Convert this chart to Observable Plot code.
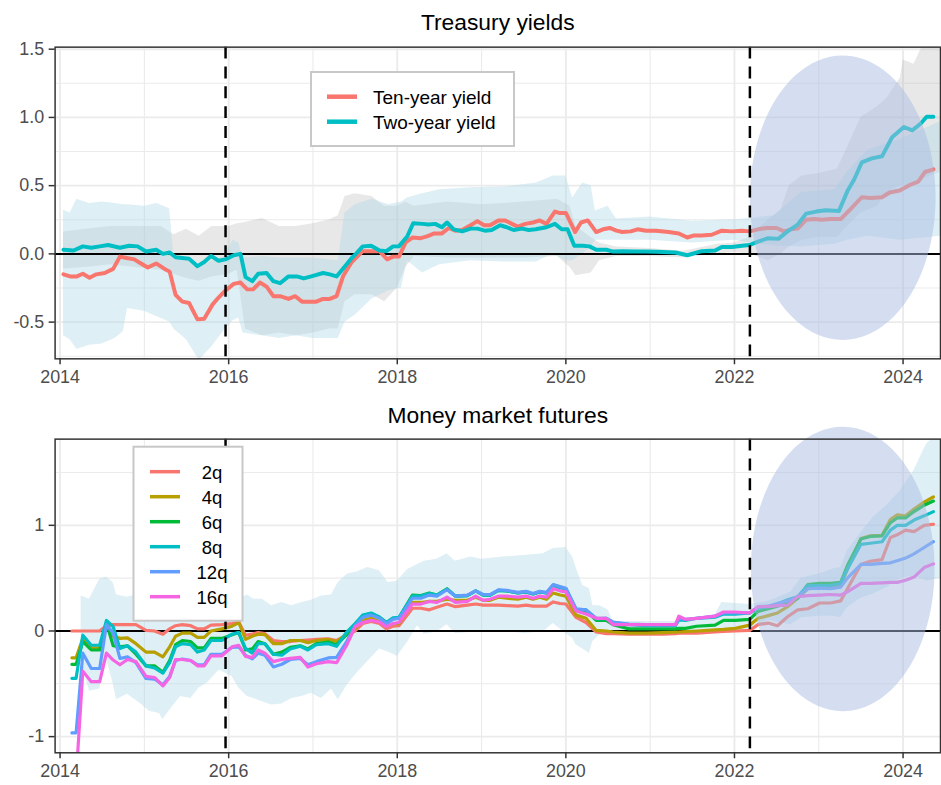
<!DOCTYPE html>
<html><head><meta charset="utf-8">
<script src="https://cdn.jsdelivr.net/npm/d3@7"></script>
<script src="https://cdn.jsdelivr.net/npm/@observablehq/plot@0.6"></script>
<style>
html,body{margin:0;padding:0;background:#fff;}
#wrap{position:relative;width:941px;height:785px;overflow:hidden;background:#fff;}
#wrap svg{display:block;}
#legend{position:absolute;left:0;top:0;pointer-events:none;}
</style></head>
<body><div id="wrap"></div>
<script>
// ---------------- DATA ----------------
// Treasury yields (decimal year, change in pp)
const tenYear = [[2014.04,-0.15],[2014.12,-0.165],[2014.2,-0.165],[2014.27,-0.146],[2014.35,-0.175],[2014.43,-0.15],[2014.53,-0.14],[2014.63,-0.11],[2014.71,-0.02],[2014.79,-0.03],[2014.88,-0.04],[2014.96,-0.07],[2015.04,-0.1],[2015.14,-0.07],[2015.24,-0.11],[2015.3,-0.13],[2015.37,-0.3],[2015.45,-0.35],[2015.53,-0.36],[2015.63,-0.48],[2015.71,-0.475],[2015.81,-0.37],[2015.88,-0.32],[2015.96,-0.27],[2016.06,-0.22],[2016.14,-0.21],[2016.22,-0.26],[2016.29,-0.26],[2016.37,-0.21],[2016.45,-0.24],[2016.53,-0.31],[2016.61,-0.31],[2016.71,-0.33],[2016.79,-0.31],[2016.87,-0.35],[2016.96,-0.35],[2017.04,-0.35],[2017.12,-0.33],[2017.2,-0.33],[2017.28,-0.31],[2017.36,-0.16],[2017.46,-0.06],[2017.59,0.02],[2017.69,0.02],[2017.79,0.02],[2017.88,-0.04],[2017.95,-0.02],[2018.02,-0.02],[2018.1,0.085],[2018.18,0.12],[2018.28,0.115],[2018.36,0.13],[2018.44,0.15],[2018.53,0.15],[2018.61,0.19],[2018.69,0.17],[2018.77,0.175],[2018.87,0.21],[2018.95,0.24],[2019.03,0.21],[2019.1,0.21],[2019.2,0.245],[2019.28,0.245],[2019.36,0.22],[2019.43,0.2],[2019.52,0.22],[2019.61,0.23],[2019.69,0.245],[2019.77,0.22],[2019.87,0.31],[2019.92,0.3],[2020.0,0.3],[2020.11,0.16],[2020.18,0.23],[2020.26,0.245],[2020.36,0.16],[2020.44,0.18],[2020.52,0.19],[2020.6,0.17],[2020.67,0.16],[2020.77,0.165],[2020.85,0.18],[2020.95,0.17],[2021.07,0.17],[2021.22,0.16],[2021.34,0.15],[2021.44,0.12],[2021.52,0.135],[2021.61,0.135],[2021.73,0.14],[2021.85,0.17],[2021.97,0.165],[2022.09,0.17],[2022.18,0.165],[2022.28,0.18],[2022.38,0.19],[2022.5,0.19],[2022.59,0.165],[2022.67,0.18],[2022.75,0.185],[2022.85,0.25],[2022.95,0.255],[2023.03,0.25],[2023.14,0.255],[2023.26,0.255],[2023.38,0.33],[2023.51,0.415],[2023.61,0.41],[2023.75,0.415],[2023.84,0.45],[2023.96,0.465],[2024.08,0.505],[2024.18,0.53],[2024.26,0.6],[2024.36,0.62]];

const twoYear = [[2014.04,0.03],[2014.16,0.025],[2014.27,0.055],[2014.37,0.045],[2014.47,0.055],[2014.57,0.065],[2014.71,0.045],[2014.82,0.06],[2014.92,0.055],[2015.02,0.017],[2015.14,0.03],[2015.22,0.0],[2015.3,0.01],[2015.37,-0.025],[2015.45,-0.03],[2015.53,-0.035],[2015.63,-0.09],[2015.71,-0.06],[2015.79,-0.015],[2015.88,-0.05],[2015.96,-0.04],[2016.06,-0.01],[2016.14,0.0],[2016.2,-0.17],[2016.28,-0.2],[2016.35,-0.145],[2016.45,-0.14],[2016.53,-0.2],[2016.61,-0.215],[2016.71,-0.165],[2016.81,-0.165],[2016.89,-0.18],[2016.98,-0.165],[2017.12,-0.14],[2017.2,-0.15],[2017.28,-0.165],[2017.38,-0.09],[2017.46,-0.03],[2017.51,0.0],[2017.59,0.055],[2017.69,0.06],[2017.79,0.025],[2017.87,0.02],[2017.95,0.055],[2018.02,0.055],[2018.12,0.13],[2018.19,0.225],[2018.3,0.22],[2018.37,0.215],[2018.45,0.22],[2018.53,0.195],[2018.59,0.23],[2018.67,0.18],[2018.77,0.165],[2018.87,0.185],[2018.95,0.185],[2019.04,0.17],[2019.12,0.175],[2019.22,0.21],[2019.3,0.195],[2019.38,0.175],[2019.48,0.185],[2019.56,0.175],[2019.64,0.18],[2019.77,0.195],[2019.87,0.22],[2019.95,0.18],[2020.02,0.18],[2020.1,0.06],[2020.2,0.06],[2020.28,0.055],[2020.36,0.03],[2020.48,0.03],[2020.56,0.017],[2020.67,0.02],[2020.83,0.017],[2020.95,0.017],[2021.07,0.015],[2021.3,0.01],[2021.44,-0.01],[2021.61,0.02],[2021.77,0.025],[2021.85,0.05],[2021.97,0.05],[2022.09,0.06],[2022.18,0.065],[2022.28,0.09],[2022.4,0.115],[2022.52,0.11],[2022.63,0.165],[2022.75,0.215],[2022.85,0.295],[2022.97,0.31],[2023.08,0.32],[2023.24,0.315],[2023.34,0.46],[2023.42,0.545],[2023.51,0.67],[2023.63,0.7],[2023.75,0.715],[2023.87,0.855],[2024.01,0.93],[2024.11,0.905],[2024.21,0.955],[2024.28,1.005],[2024.36,1.005]];

// confidence bands [year, low, high]
const tenYearBand = [[2014.04,-0.6,0.32],[2014.12,-0.63,0.3],[2014.2,-0.7,0.4],[2014.35,-0.67,0.37],[2014.5,-0.66,0.38],[2014.65,-0.62,0.37],[2014.75,-0.57,0.36],[2014.8,-0.4,0.36],[2015.0,-0.42,0.35],[2015.15,-0.46,0.37],[2015.3,-0.5,0.33],[2015.35,-0.55,-0.02],[2015.5,-0.63,-0.05],[2015.65,-0.78,-0.1],[2015.8,-0.68,-0.05],[2015.95,-0.56,-0.02],[2016.05,-0.49,0.1],[2016.12,-0.47,0.08],[2016.17,-0.58,-0.03],[2016.4,-0.6,-0.02],[2016.6,-0.62,-0.03],[2016.8,-0.6,-0.03],[2017.0,-0.62,-0.03],[2017.3,-0.62,-0.05],[2017.38,-0.5,0.3],[2017.5,-0.45,0.36],[2017.7,-0.33,0.4],[2017.9,-0.27,0.36],[2018.05,-0.25,0.38],[2018.12,-0.05,0.41],[2018.3,-0.14,0.44],[2018.5,-0.08,0.47],[2018.87,-0.05,0.485],[2019.26,-0.06,0.49],[2019.65,-0.06,0.52],[2019.85,0.0,0.57],[2020.0,-0.05,0.57],[2020.08,-0.05,0.41],[2020.2,0.0,0.52],[2020.3,0.05,0.5],[2020.35,0.1,0.315],[2020.5,0.1,0.35],[2020.6,0.1,0.255],[2021.0,0.1,0.27],[2021.5,0.08,0.24],[2022.0,0.1,0.25],[2022.18,0.08,0.26],[2022.47,0.06,0.28],[2022.79,0.05,0.45],[2023.19,0.07,0.47],[2023.34,0.1,0.6],[2023.58,0.13,0.76],[2023.97,0.1,0.84],[2024.45,0.13,0.97]];

const twoYearBand = [[2014.04,-0.11,0.16],[2014.3,-0.1,0.18],[2014.6,-0.08,0.2],[2014.9,-0.1,0.2],[2015.2,-0.12,0.2],[2015.35,-0.15,0.14],[2015.5,-0.18,0.18],[2015.65,-0.2,0.13],[2015.8,-0.17,0.2],[2016.0,-0.15,0.2],[2016.1,-0.12,0.22],[2016.2,-0.55,0.23],[2016.4,-0.6,0.26],[2016.6,-0.58,0.2],[2016.8,-0.6,0.2],[2017.0,-0.58,0.22],[2017.2,-0.55,0.25],[2017.3,-0.55,0.28],[2017.38,-0.35,0.42],[2017.5,-0.3,0.44],[2017.7,-0.3,0.42],[2017.85,-0.35,0.35],[2018.0,-0.25,0.35],[2018.1,-0.1,0.38],[2018.2,-0.02,0.35],[2018.6,-0.03,0.38],[2019.0,-0.03,0.36],[2019.5,-0.03,0.38],[2019.9,-0.02,0.4],[2020.05,-0.1,0.35],[2020.12,-0.16,0.2],[2020.3,-0.14,0.12],[2020.4,-0.05,0.08],[2020.6,-0.02,0.05],[2021.0,-0.02,0.04],[2021.4,-0.03,0.02],[2021.8,0.0,0.07],[2022.0,0.01,0.08],[2022.18,0.0,0.12],[2022.4,-0.05,0.25],[2022.55,0.0,0.32],[2022.65,0.05,0.5],[2022.8,0.1,0.57],[2023.0,0.12,0.59],[2023.22,0.12,0.62],[2023.34,0.2,0.78],[2023.5,0.3,1.0],[2023.7,0.35,1.08],[2023.81,0.45,1.14],[2023.97,0.5,1.29],[2024.0,0.5,1.42],[2024.13,0.52,1.39],[2024.25,0.55,1.55],[2024.45,0.6,1.6]];

// Money market futures
const futuresDates = [2014.14,2014.19,2014.27,2014.37,2014.47,2014.55,2014.63,2014.71,2014.80,2014.90,2015.02,2015.12,2015.22,2015.30,2015.37,2015.45,2015.55,2015.63,2015.71,2015.79,2015.92,2016.04,2016.12,2016.20,2016.28,2016.35,2016.43,2016.53,2016.63,2016.73,2016.85,2016.94,2017.04,2017.18,2017.28,2017.40,
 2017.50,2017.59,2017.69,2017.79,2017.87,2017.95,2018.02,2018.18,2018.28,2018.38,2018.47,2018.59,2018.69,2018.83,2018.93,2019.02,2019.10,2019.20,2019.30,2019.43,2019.53,2019.61,2019.69,2019.77,2019.85,2019.93,2020.00,2020.12,2020.24,2020.36,2020.48,2020.56,2020.75,2020.95,2021.15,2021.30,
 2021.34,2021.42,2021.55,2021.77,2021.87,2022.01,2022.18,2022.28,2022.40,2022.51,2022.63,2022.75,2022.87,2023.01,2023.14,2023.26,2023.34,2023.50,2023.61,2023.75,2023.85,2023.93,2024.03,2024.13,2024.25,2024.36];

const fut2q = [0,0,0,0,0,0.05,0.06,0.06,0.06,0.06,0.005,0.0,-0.03,0.02,0.05,0.06,0.05,0.02,0.02,0.055,0.06,0.07,0.085,-0.04,-0.03,-0.015,-0.025,-0.09,-0.1,-0.1,-0.09,-0.085,-0.08,-0.075,-0.09,-0.04,
 0.0,0.07,0.09,0.07,0.02,0.045,0.05,0.215,0.215,0.2,0.225,0.255,0.23,0.245,0.255,0.245,0.245,0.245,0.24,0.235,0.245,0.235,0.235,0.235,0.275,0.26,0.255,0.13,0.08,-0.01,-0.025,-0.025,-0.03,-0.03,-0.03,-0.025,
 -0.02,-0.02,-0.02,-0.01,-0.005,0.0,0.005,0.06,0.075,0.05,0.135,0.2,0.21,0.265,0.265,0.285,0.4,0.63,0.66,0.675,0.885,0.91,0.955,0.94,1.0,1.01];
const fut4q = [-0.254,-0.254,-0.07,-0.16,-0.16,0.06,-0.05,-0.07,-0.065,-0.12,-0.2,-0.2,-0.245,-0.15,-0.05,-0.02,-0.02,-0.06,-0.06,0.0,0.02,0.045,0.08,-0.08,-0.05,-0.03,-0.035,-0.12,-0.12,-0.09,-0.09,-0.11,-0.09,-0.08,-0.1,-0.03,
 0.02,0.1,0.12,0.09,0.04,0.07,0.07,0.27,0.27,0.28,0.28,0.3,0.29,0.29,0.32,0.29,0.29,0.32,0.31,0.3,0.32,0.3,0.32,0.3,0.36,0.34,0.33,0.15,0.12,0.005,0.0,-0.01,-0.02,-0.02,-0.015,-0.01,
 -0.01,-0.005,0.0,0.01,0.015,0.025,0.055,0.12,0.145,0.17,0.23,0.31,0.4,0.41,0.41,0.43,0.585,0.875,0.9,0.905,1.055,1.1,1.09,1.155,1.22,1.27];
const fut6q = [-0.316,-0.316,-0.1,-0.18,-0.18,0.075,-0.14,-0.15,-0.14,-0.22,-0.33,-0.33,-0.39,-0.28,-0.13,-0.09,-0.1,-0.16,-0.16,-0.07,-0.07,-0.035,-0.015,-0.18,-0.17,-0.1,-0.12,-0.22,-0.2,-0.155,-0.14,-0.17,-0.12,-0.105,-0.13,-0.035,
 0.06,0.145,0.165,0.13,0.08,0.12,0.125,0.34,0.335,0.36,0.34,0.4,0.33,0.335,0.38,0.34,0.34,0.385,0.38,0.36,0.37,0.35,0.37,0.36,0.435,0.415,0.4,0.2,0.19,0.1,0.1,0.06,0.02,0.02,0.02,0.02,
 0.025,0.025,0.045,0.055,0.1,0.1,0.11,0.185,0.21,0.235,0.265,0.31,0.44,0.45,0.45,0.46,0.62,0.87,0.895,0.9,1.025,1.07,1.07,1.13,1.19,1.23];
const fut8q = [-0.448,-0.448,-0.04,-0.135,-0.135,0.1,0.04,-0.165,-0.14,-0.2,-0.33,-0.35,-0.4,-0.3,-0.15,-0.12,-0.13,-0.2,-0.18,-0.09,-0.09,-0.03,-0.015,-0.165,-0.21,-0.12,-0.12,-0.22,-0.23,-0.17,-0.145,-0.18,-0.13,-0.12,-0.145,-0.01,
 0.07,0.15,0.17,0.13,0.08,0.125,0.13,0.33,0.33,0.355,0.34,0.395,0.33,0.335,0.38,0.34,0.34,0.385,0.38,0.36,0.37,0.35,0.37,0.36,0.43,0.41,0.4,0.205,0.2,0.115,0.12,0.08,0.06,0.05,0.05,0.05,
 0.105,0.1,0.12,0.13,0.16,0.16,0.17,0.215,0.23,0.255,0.295,0.325,0.43,0.43,0.43,0.45,0.585,0.82,0.83,0.845,0.955,1.0,1.0,1.05,1.09,1.13];
const fut12q = [-0.965,-0.965,-0.21,-0.355,-0.355,0.06,-0.02,-0.26,-0.245,-0.3,-0.45,-0.455,-0.51,-0.43,-0.28,-0.265,-0.28,-0.32,-0.32,-0.22,-0.22,-0.155,-0.15,-0.23,-0.265,-0.21,-0.23,-0.34,-0.315,-0.27,-0.26,-0.32,-0.29,-0.255,-0.25,-0.1,
 0.05,0.13,0.15,0.12,0.07,0.11,0.12,0.31,0.31,0.34,0.33,0.39,0.33,0.34,0.38,0.345,0.345,0.39,0.385,0.365,0.375,0.355,0.375,0.365,0.44,0.42,0.405,0.21,0.2,0.12,0.12,0.085,0.065,0.06,0.06,0.06,
 0.12,0.11,0.12,0.14,0.17,0.17,0.17,0.23,0.235,0.26,0.285,0.325,0.4,0.405,0.4,0.415,0.5,0.63,0.63,0.64,0.645,0.665,0.69,0.73,0.79,0.845];
const fut16q = [-1.4,-1.4,-0.38,-0.48,-0.48,-0.21,-0.275,-0.32,-0.27,-0.29,-0.43,-0.44,-0.52,-0.44,-0.27,-0.27,-0.28,-0.33,-0.33,-0.235,-0.235,-0.15,-0.135,-0.24,-0.25,-0.18,-0.21,-0.29,-0.27,-0.26,-0.25,-0.34,-0.31,-0.29,-0.3,-0.135,
 0.04,0.08,0.1,0.085,0.04,0.07,0.08,0.255,0.255,0.28,0.27,0.32,0.27,0.28,0.33,0.29,0.3,0.33,0.33,0.32,0.33,0.31,0.33,0.32,0.4,0.38,0.37,0.19,0.16,0.12,0.12,0.06,0.06,0.06,0.06,0.06,
 0.14,0.11,0.12,0.14,0.18,0.18,0.17,0.23,0.23,0.24,0.245,0.325,0.335,0.34,0.345,0.34,0.37,0.45,0.45,0.455,0.46,0.46,0.48,0.51,0.6,0.635];

const futuresBand = [[2014.25,-0.29,0.33],[2014.35,-0.57,0.3],[2014.47,-0.55,0.49],[2014.55,-0.26,0.51],[2014.63,-0.5,0.46],[2014.67,-0.65,0.34],[2014.8,-0.6,0.32],[2014.94,-0.68,0.35],[2015.06,-0.76,0.33],[2015.18,-0.78,0.32],[2015.22,-0.84,0.3],[2015.33,-0.72,0.33],[2015.43,-0.62,0.35],[2015.55,-0.64,0.33],[2015.65,-0.54,0.32],[2015.75,-0.49,0.33],[2015.89,-0.37,0.34],[2016.04,-0.43,0.32],[2016.12,-0.54,0.3],[2016.22,-0.62,0.34],[2016.3,-0.64,0.3],[2016.4,-0.67,0.3],[2016.51,-0.7,0.24],[2016.63,-0.69,0.27],[2016.75,-0.64,0.24],[2016.87,-0.62,0.27],[2016.98,-0.59,0.29],[2017.1,-0.64,0.33],[2017.22,-0.55,0.34],[2017.3,-0.65,0.46],[2017.41,-0.51,0.54],[2017.53,-0.39,0.56],[2017.65,-0.29,0.6],[2017.79,-0.17,0.57],[2017.89,-0.2,0.46],[2018.0,-0.24,0.47],[2018.12,-0.11,0.58],[2018.24,0.05,0.63],[2018.32,-0.03,0.66],[2018.47,-0.01,0.68],[2018.59,0.06,0.73],[2018.69,-0.025,0.66],[2018.87,-0.015,0.7],[2019.0,-0.01,0.68],[2019.26,0.0,0.7],[2019.5,-0.025,0.715],[2019.73,-0.01,0.73],[2019.85,0.07,0.78],[2020.0,-0.025,0.79],[2020.08,-0.07,0.7],[2020.12,-0.13,0.6],[2020.2,-0.17,0.43],[2020.28,-0.21,0.4],[2020.32,-0.1,0.24],[2020.4,-0.04,0.24],[2020.5,-0.01,0.2],[2020.56,-0.02,0.09],[2021.0,-0.03,0.09],[2021.5,-0.03,0.09],[2021.75,-0.02,0.12],[2021.85,-0.01,0.27],[2022.18,0.0,0.25],[2022.4,0.1,0.28],[2022.67,0.06,0.37],[2022.79,0.125,0.5],[2023.02,0.14,0.545],[2023.18,0.14,0.59],[2023.26,0.125,0.6],[2023.34,0.22,0.76],[2023.5,0.31,0.93],[2023.65,0.35,1.08],[2023.81,0.41,1.19],[2023.97,0.5,1.33],[2024.13,0.52,1.52],[2024.2,0.5,1.64],[2024.28,0.47,1.77],[2024.45,0.5,1.9]];

// annotations
const policyDates = [2015.963, 2022.183];          // dashed vertical lines
const ellipseTop = {x: 2023.284, y: 0.412};        // centre of highlight, top panel
const ellipseBottom = {x: 2023.284, y: 0.587};     // centre of highlight, bottom panel

// axis tick labels
const yearTicks = [2014, 2016, 2018, 2020, 2022, 2024];
const yearMinor = [2015, 2017, 2019, 2021, 2023];
const topYTicks = [-0.5, 0, 0.5, 1, 1.5];
const topYMinor = [-0.75, -0.25, 0.25, 0.75, 1.25];
const botYTicks = [-1, 0, 1];
const botYMinor = [-0.5, 0.5, 1.5];

const topSeries = ["Ten-year yield", "Two-year yield"];
const futSeries = ["2q", "4q", "6q", "8q", "12q", "16q"];

// ---------------- STYLE ----------------
const FONT = '"Liberation Sans", Arial, Helvetica, sans-serif';
const RED = "#F8766D", TEAL = "#00BFC4";
const futColors = ["#F8766D", "#B79F00", "#00BA38", "#00BFC4", "#619CFF", "#F564E3"];
const GRID = "#ebebeb";
const ELLIPSE_FILL = "#aabde2";
const xDomain = [2013.941, 2024.444];

const ellipseSymbol = (rx, ry) => ({
  draw(ctx) {
    const k = 0.5522847498;
    ctx.moveTo(rx, 0);
    ctx.bezierCurveTo(rx, k * ry, k * rx, ry, 0, ry);
    ctx.bezierCurveTo(-k * rx, ry, -rx, k * ry, -rx, 0);
    ctx.bezierCurveTo(-rx, -k * ry, -k * rx, -ry, 0, -ry);
    ctx.bezierCurveTo(k * rx, -ry, rx, -k * ry, rx, 0);
    ctx.closePath();
  }
});

const pairs = a => a.map(([x, y]) => ({x, y}));
const bands = a => a.map(([x, lo, hi]) => ({x, lo, hi}));

const gridMarks = (yMajor, yMinor) => [
  Plot.gridX(yearMinor, {stroke: GRID, strokeOpacity: 1, strokeWidth: 1.1}),
  Plot.gridY(yMinor, {stroke: GRID, strokeOpacity: 1, strokeWidth: 1.1}),
  Plot.gridX(yearTicks, {stroke: GRID, strokeOpacity: 1, strokeWidth: 1.9}),
  Plot.gridY(yMajor, {stroke: GRID, strokeOpacity: 1, strokeWidth: 1.9})
];
const axisMarks = (yMajor, yFmt) => [
  Plot.axisX(yearTicks, {tickFormat: d => String(d), tickSize: 6, tickPadding: 6, fontSize: 18, stroke: "#333333", strokeWidth: 1.5, fill: "#4d4d4d", label: null}),
  Plot.axisY(yMajor, {tickFormat: yFmt, tickSize: 6, tickPadding: 5, fontSize: 18, stroke: "#333333", strokeWidth: 1.5, fill: "#4d4d4d", label: null})
];
const common = {
  width: 948, marginLeft: 55, marginRight: 1,
  style: {fontFamily: FONT, fontSize: "18px", background: "white", overflow: "visible"}
};

// ---------------- TOP PANEL ----------------
const topPlot = Plot.plot({
  ...common, height: 392, marginTop: 47, marginBottom: 31,
  x: {domain: xDomain},
  y: {domain: [-0.769, 1.515]},
  marks: [
    ...gridMarks(topYTicks, topYMinor),
    Plot.areaY(bands(twoYearBand), {x: "x", y1: "lo", y2: "hi", fill: "#b3b3b3", fillOpacity: 0.3, clip: true}),
    Plot.areaY(bands(tenYearBand), {x: "x", y1: "lo", y2: "hi", fill: "#add8e6", fillOpacity: 0.4, clip: true}),
    Plot.ruleY([0], {stroke: "black", strokeWidth: 2}),
    Plot.line(pairs(tenYear), {x: "x", y: "y", stroke: RED, strokeWidth: 4, clip: true}),
    Plot.line(pairs(twoYear), {x: "x", y: "y", stroke: TEAL, strokeWidth: 4, clip: true}),
    Plot.dot([ellipseTop], {x: "x", y: "y", symbol: ellipseSymbol(93.5, 143.3), fill: ELLIPSE_FILL, fillOpacity: 0.5, stroke: "none"}),
    Plot.ruleX(policyDates, {stroke: "black", strokeWidth: 2.5, strokeDasharray: "12,8"}),
    Plot.frame({stroke: "#333333", strokeWidth: 1.5}),
    ...axisMarks(topYTicks, d => d.toFixed(1)),
    Plot.text(["Treasury yields"], {text: d => d, frameAnchor: "top", lineAnchor: "bottom", dy: -17.7, fontSize: 23, fill: "black"})
  ]
});

// ---------------- BOTTOM PANEL ----------------
const futLines = [fut2q, fut4q, fut6q, fut8q, fut12q, fut16q];
const botPlot = Plot.plot({
  ...common, height: 393, marginTop: 50, marginBottom: 27,
  x: {domain: xDomain},
  y: {domain: [-1.153, 1.816]},
  marks: [
    ...gridMarks(botYTicks, botYMinor),
    Plot.areaY(bands(futuresBand), {x: "x", y1: "lo", y2: "hi", fill: "#add8e6", fillOpacity: 0.4, clip: true}),
    Plot.ruleY([0], {stroke: "black", strokeWidth: 2}),
    ...futLines.map((vals, i) => Plot.line(futuresDates.map((x, j) => ({x, y: vals[j]})), {x: "x", y: "y", stroke: futColors[i], strokeWidth: 3.2, clip: true})),
    Plot.dot([ellipseBottom], {x: "x", y: "y", symbol: ellipseSymbol(92.5, 143.3), fill: ELLIPSE_FILL, fillOpacity: 0.5, stroke: "none"}),
    Plot.ruleX(policyDates, {stroke: "black", strokeWidth: 2.5, strokeDasharray: "12,8"}),
    Plot.frame({stroke: "#333333", strokeWidth: 1.5}),
    ...axisMarks(botYTicks, d => String(d)),
    Plot.text(["Money market futures"], {text: d => d, frameAnchor: "top", lineAnchor: "bottom", dy: -16.3, fontSize: 23, fill: "black"})
  ]
});

const wrap = document.getElementById("wrap");
wrap.appendChild(topPlot);
wrap.appendChild(botPlot);

// ---------------- LEGENDS (overlay) ----------------
const leg = d3.create("svg").attr("id", "legend").attr("width", 941).attr("height", 785)
  .style("font-family", FONT);
// top legend
const g1 = leg.append("g");
g1.append("rect").attr("x", 311).attr("y", 72).attr("width", 203).attr("height", 74)
  .attr("fill", "white").attr("stroke", "#c8c8c8").attr("stroke-width", 2);
[RED, TEAL].forEach((c, i) => {
  const cy = 96.7 + 25 * i;
  g1.append("line").attr("x1", 327).attr("x2", 357).attr("y1", cy).attr("y2", cy)
    .attr("stroke", c).attr("stroke-width", 4.5);
  g1.append("text").attr("x", 373).attr("y", cy + 7.3).attr("font-size", 19).attr("fill", "black").text(topSeries[i]);
});
// bottom legend
const g2 = leg.append("g");
g2.append("rect").attr("x", 133.5).attr("y", 446.7).attr("width", 109).attr("height", 174)
  .attr("fill", "white").attr("stroke", "#c8c8c8").attr("stroke-width", 2);
futSeries.forEach((s, i) => {
  const cy = 471.7 + 25 * i;
  g2.append("line").attr("x1", 150).attr("x2", 180).attr("y1", cy).attr("y2", cy)
    .attr("stroke", futColors[i]).attr("stroke-width", 3.5);
  g2.append("text").attr("x", 212).attr("y", cy + 7.6).attr("text-anchor", "middle")
    .attr("font-size", 18.5).attr("fill", "black").text(s);
});
wrap.appendChild(leg.node());
</script>
</body></html>
